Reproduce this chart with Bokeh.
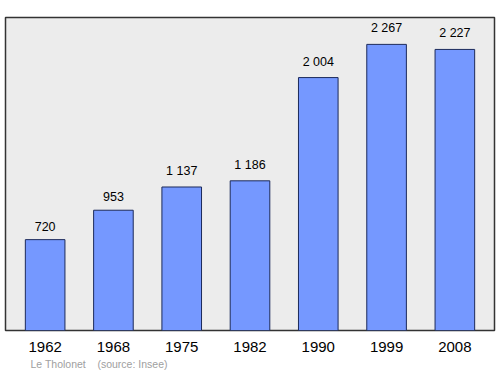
from bokeh.plotting import figure
from bokeh.models import FactorRange, Range1d, Title, ColumnDataSource
from bokeh.core.properties import value
from bokeh.embed import file_html
from bokeh.resources import INLINE

years = ["1962", "1968", "1975", "1982", "1990", "1999", "2008"]
population = [720, 953, 1137, 1186, 2004, 2267, 2227]
labels = [f"{v:,}".replace(",", " ") for v in population]
footer = "Le Tholonet\u00a0\u00a0\u00a0 (source: Insee)"

FONT = "Liberation Sans"

src = ColumnDataSource(dict(year=years, pop=population, label=labels))

p = figure(
    width=500, height=374,
    x_range=FactorRange(factors=years, range_padding=0.023),
    y_range=Range1d(0, 2480),
    output_backend="svg", toolbar_location=None,
    y_axis_location=None,
    min_border_left=5, min_border_right=6, min_border_top=17, min_border_bottom=44,
)
p.border_fill_color = "white"
p.background_fill_color = "#ececec"
p.outline_line_color = "#333333"
p.outline_line_width = 1.5
p.grid.visible = False

p.vbar(x="year", top="pop", width=0.58, source=src,
       fill_color="#7598ff", line_color="#1c2a5a", line_width=1)

p.text(x="year", y="pop", text="label", source=src,
       text_align="center", text_baseline="bottom", y_offset=-9,
       text_font=value(FONT), text_font_size="12.5px", text_color="black")

ax = p.xaxis[0]
ax.axis_line_color = None
ax.major_tick_line_color = None
ax.minor_tick_line_color = None
ax.major_label_standoff = 5
ax.major_label_text_font = FONT
ax.major_label_text_font_size = "15px"
ax.major_label_text_color = "black"

t = Title(text=footer, align="left", offset=25,
          text_font=FONT, text_font_size="10.5px", text_font_style="normal",
          text_color="#a0a0a0", standoff=2)
p.add_layout(t, "below")

open("out.html", "w").write(file_html(p, INLINE))
